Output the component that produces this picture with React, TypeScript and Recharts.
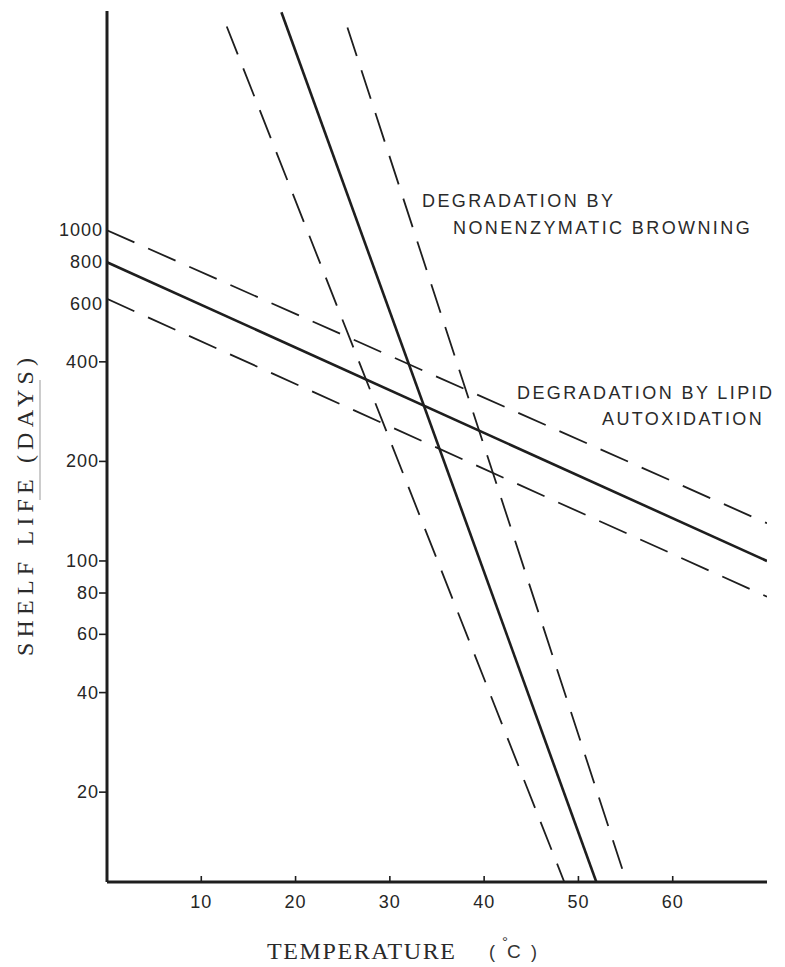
import React from 'react';
import { LineChart, Line, XAxis, YAxis } from 'recharts';

// temperature (°C) against shelf life (days), log scale
const xTicks = [10, 20, 30, 40, 50, 60];
const yTicks = [20, 40, 60, 80, 100, 200, 400, 600, 800, 1000];
const yTicksNoMark = [600, 800, 1000];

// lipid autoxidation: shallow lines
const lipidTemps = [0, 70];
const lipidMid = [800, 100];
const lipidUpper = [1000, 130];
const lipidLower = [620, 78];

// nonenzymatic browning: steep lines
const browningMidTemps = [18.5, 51.9];
const browningMid = [4560, 10.7];
const browningLeftTemps = [12.7, 48.5];
const browningLeft = [4130, 10.7];
const browningRightTemps = [25.5, 55.1];
const browningRight = [4100, 10.7];

const toPoints = (temps: number[], vals: number[]) => temps.map((t, i) => ({ t, v: vals[i] }));

const INK = '#1e1e1e';
const SANS = '"Liberation Sans", Arial, sans-serif';
const TYPE = '"Liberation Serif", "DejaVu Serif", serif';

function YTick(props: any) {
  const { x, y, payload } = props;
  const noMark = yTicksNoMark.includes(payload.value);
  return (
    <g>
      {!noMark && <line x1={x - 8} x2={x} y1={y} y2={y} stroke={INK} strokeWidth={1.6} />}
      <text
        x={noMark ? x - 4 : x - 8}
        y={y + 6}
        textAnchor="end"
        fontFamily={SANS}
        fontSize={18}
        letterSpacing={1}
        fill="#262626"
      >
        {payload.value}
      </text>
    </g>
  );
}

function XTick(props: any) {
  const { x, y, payload } = props;
  return (
    <g>
      <line x1={x} x2={x} y1={y} y2={y - 6} stroke={INK} strokeWidth={1.6} />
      <text x={x} y={y + 26} textAnchor="middle" fontFamily={SANS} fontSize={18} letterSpacing={1} fill="#262626">
        {payload.value}
      </text>
    </g>
  );
}

export default function App() {
  const dashed = { stroke: INK, strokeWidth: 1.8, strokeDasharray: '30 15', dot: false, isAnimationActive: false, type: 'linear' as const };
  const solid = { stroke: INK, strokeWidth: 2.6, dot: false, isAnimationActive: false, type: 'linear' as const };

  return (
    <div style={{ position: 'absolute', left: 0, top: 0, width: 785, height: 967, background: '#fff' }}>
      <LineChart width={785} height={967} margin={{ top: 11, right: 18, bottom: 0, left: 0 }}>
        <XAxis
          dataKey="t"
          type="number"
          domain={[0, 70]}
          ticks={xTicks}
          allowDataOverflow
          height={85}
          tickSize={0}
          tickMargin={0}
          tickLine={false}
          axisLine={{ stroke: INK, strokeWidth: 3 }}
          tick={<XTick />}
        />
        <YAxis
          dataKey="v"
          type="number"
          scale="log"
          domain={[10.7, 4600]}
          ticks={yTicks}
          allowDataOverflow
          width={107}
          tickSize={0}
          tickMargin={0}
          tickLine={false}
          axisLine={{ stroke: INK, strokeWidth: 3 }}
          tick={<YTick />}
        />
        <Line data={toPoints(lipidTemps, lipidUpper)} dataKey="v" {...dashed} />
        <Line data={toPoints(lipidTemps, lipidMid)} dataKey="v" {...solid} />
        <Line data={toPoints(lipidTemps, lipidLower)} dataKey="v" {...dashed} />
        <Line data={toPoints(browningLeftTemps, browningLeft)} dataKey="v" {...dashed} />
        <Line data={toPoints(browningMidTemps, browningMid)} dataKey="v" {...solid} />
        <Line data={toPoints(browningRightTemps, browningRight)} dataKey="v" {...dashed} />
      </LineChart>

      <svg width={785} height={967} style={{ position: 'absolute', left: 0, top: 0, pointerEvents: 'none' }}>
        <g fontFamily={SANS} fontSize={18} letterSpacing={2.4} fill="#2a2a2a">
          <text x={422} y={207}>DEGRADATION BY</text>
          <text x={453} y={234}>NONENZYMATIC BROWNING</text>
          <text x={517} y={399}>DEGRADATION BY LIPID</text>
          <text x={602} y={425}>AUTOXIDATION</text>
        </g>
        <text
          x={25}
          y={507}
          transform="rotate(-90 25 507)"
          textAnchor="middle"
          dominantBaseline="central"
          fontFamily={TYPE}
          fontSize={24}
          textLength={298}
          lengthAdjust="spacing"
          fill="#2a2a2a"
        >
          SHELF LIFE (DAYS)
        </text>
        <line x1={40} x2={40} y1={380} y2={500} stroke="#999" strokeWidth={1} />
        <text x={267} y={959} fontFamily={TYPE} fontSize={24} textLength={188} lengthAdjust="spacing" fill="#2a2a2a">
          TEMPERATURE
        </text>
        <g fontFamily={SANS} fill="#333">
          <text x={489} y={958} fontSize={18}>(</text>
          <text x={502} y={947} fontSize={15}>°</text>
          <text x={507} y={958} fontSize={19}>C</text>
          <text x={531} y={958} fontSize={18}>)</text>
        </g>
      </svg>
    </div>
  );
}
